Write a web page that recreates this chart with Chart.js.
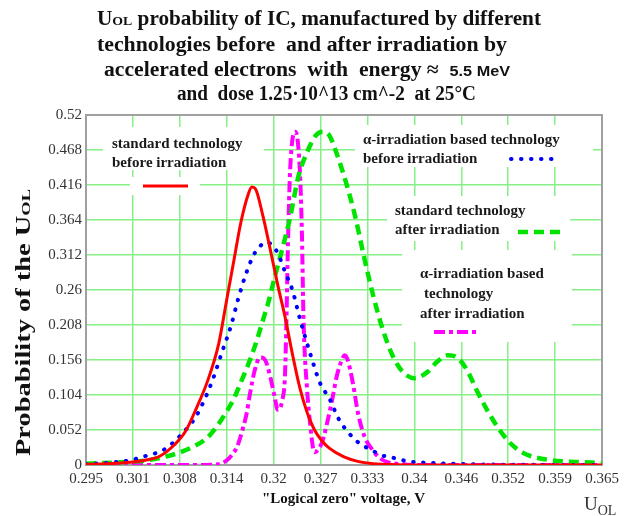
<!DOCTYPE html>
<html>
<head>
<meta charset="utf-8">
<script src="https://cdn.jsdelivr.net/npm/chart.js@4"></script>
<style>
  html, body { margin: 0; padding: 0; background: #fff; }
</style>
</head>
<body>
<canvas id="myChart" width="624" height="516"></canvas>
<script>
const X_TICK_LABELS = ["0.295", "0.301", "0.308", "0.314", "0.32", "0.327", "0.333", "0.34", "0.346", "0.352", "0.359", "0.365"];
const Y_TICK_LABELS = ["0", "0.052", "0.104", "0.156", "0.208", "0.26", "0.312", "0.364", "0.416", "0.468", "0.52"];
const X_MIN = 0.295, X_MAX = 0.365, Y_MIN = 0, Y_MAX = 0.52;

// standard technology before irradiation
const STD_BEFORE_X = [0.295, 0.298, 0.301, 0.303, 0.305, 0.307, 0.3085, 0.31, 0.3115, 0.313, 0.314, 0.315, 0.316, 0.317, 0.3175, 0.318, 0.319, 0.32, 0.321, 0.322, 0.323, 0.324, 0.325, 0.326, 0.327, 0.328, 0.33, 0.332, 0.334, 0.337, 0.34, 0.365];
const STD_BEFORE_Y = [0.001, 0.002, 0.004, 0.007, 0.013, 0.03, 0.05, 0.085, 0.125, 0.18, 0.24, 0.3, 0.36, 0.402, 0.413, 0.41, 0.37, 0.32, 0.268, 0.22, 0.165, 0.115, 0.078, 0.052, 0.036, 0.025, 0.012, 0.005, 0.002, 0.0005, 0, 0];

// alpha-irradiation based technology before irradiation
const ALPHA_BEFORE_X = [0.295, 0.2987, 0.301, 0.3026, 0.304, 0.3053, 0.3067, 0.308, 0.3098, 0.3112, 0.3123, 0.3134, 0.3147, 0.3156, 0.3168, 0.3179, 0.3189, 0.3195, 0.3202, 0.321, 0.322, 0.323, 0.324, 0.3254, 0.3267, 0.3281, 0.3292, 0.3311, 0.3324, 0.3338, 0.3349, 0.3362, 0.3376, 0.339, 0.342, 0.346, 0.352, 0.365];
const ALPHA_BEFORE_Y = [0.001, 0.004, 0.007, 0.012, 0.016, 0.021, 0.032, 0.046, 0.07, 0.1, 0.13, 0.166, 0.208, 0.245, 0.287, 0.315, 0.328, 0.331, 0.327, 0.315, 0.287, 0.26, 0.218, 0.166, 0.123, 0.097, 0.07, 0.042, 0.03, 0.022, 0.015, 0.012, 0.008, 0.005, 0.003, 0.0015, 0.0005, 0];

// standard technology after irradiation
const STD_AFTER_X = [0.295, 0.2996, 0.3033, 0.306, 0.3078, 0.3095, 0.3114, 0.3128, 0.3141, 0.315, 0.3159, 0.3172, 0.3182, 0.319, 0.3197, 0.3206, 0.3217, 0.3227, 0.3238, 0.325, 0.3262, 0.3272, 0.328, 0.329, 0.3304, 0.3315, 0.3326, 0.334, 0.3353, 0.3367, 0.338, 0.3396, 0.3413, 0.3426, 0.3441, 0.3453, 0.3467, 0.348, 0.3494, 0.3508, 0.3525, 0.3543, 0.357, 0.3607, 0.365];
const STD_AFTER_Y = [0.002, 0.004, 0.007, 0.013, 0.019, 0.027, 0.04, 0.058, 0.08, 0.097, 0.12, 0.155, 0.186, 0.215, 0.24, 0.279, 0.324, 0.368, 0.428, 0.465, 0.49, 0.495, 0.49, 0.463, 0.415, 0.37, 0.315, 0.25, 0.2, 0.16, 0.138, 0.129, 0.138, 0.153, 0.163, 0.16, 0.141, 0.111, 0.082, 0.057, 0.033, 0.018, 0.009, 0.005, 0.003];

// alpha-irradiation based technology after irradiation
const ALPHA_AFTER_X = [0.295, 0.31, 0.313, 0.3141, 0.315, 0.3155, 0.3163, 0.3168, 0.3172, 0.3179, 0.3186, 0.3193, 0.32, 0.3206, 0.321, 0.3216, 0.322, 0.3222, 0.3224, 0.3227, 0.3234, 0.324, 0.3243, 0.3245, 0.325, 0.3254, 0.3258, 0.326, 0.327, 0.3277, 0.3284, 0.329, 0.3297, 0.3301, 0.3305, 0.3312, 0.3319, 0.3328, 0.3339, 0.3349, 0.336, 0.338, 0.34, 0.365];
const ALPHA_AFTER_Y = [0, 0, 0.001, 0.007, 0.018, 0.027, 0.055, 0.077, 0.103, 0.141, 0.16, 0.156, 0.131, 0.101, 0.082, 0.095, 0.135, 0.22, 0.33, 0.44, 0.495, 0.44, 0.34, 0.22, 0.111, 0.062, 0.025, 0.019, 0.033, 0.062, 0.097, 0.131, 0.156, 0.163, 0.156, 0.122, 0.077, 0.042, 0.022, 0.01, 0.004, 0.001, 0, 0];

const SERIF = '"Liberation Serif", "DejaVu Serif", serif';
const GRID_GREEN = "#86f086";

function pts(xs, ys) {
  return xs.map((x, i) => ({ x: x, y: ys[i] }));
}

const STYLES = [
  { color: "#ff0000", width: 3, dash: [], cap: "butt" },
  { color: "#0000ff", width: 4, dash: [0.5, 9.5], cap: "round" },
  { color: "#00e400", width: 4.5, dash: [10, 6], cap: "butt" },
  { color: "#ff00ff", width: 4, dash: [11, 4, 4, 4], cap: "butt" },
];

const SERIES = [
  { label: "standard technology before irradiation", x: STD_BEFORE_X, y: STD_BEFORE_Y },
  { label: "α-irradiation based technology before irradiation", x: ALPHA_BEFORE_X, y: ALPHA_BEFORE_Y },
  { label: "standard technology after irradiation", x: STD_AFTER_X, y: STD_AFTER_Y },
  { label: "α-irradiation based technology after irradiation", x: ALPHA_AFTER_X, y: ALPHA_AFTER_Y },
];

// draw text made of several font runs, squeezed to a given width
function drawRich(ctx, parts, x, y, width) {
  let total = 0;
  parts.forEach(p => { ctx.font = p[1]; total += ctx.measureText(p[0]).width; });
  const sx = width ? width / total : 1;
  ctx.save();
  ctx.translate(x, y);
  ctx.scale(sx, 1);
  let cx = 0;
  parts.forEach(p => {
    ctx.font = p[1];
    ctx.fillText(p[0], cx, p[2] || 0);
    cx += ctx.measureText(p[0]).width;
  });
  ctx.restore();
}

function sample(ctx, s, x1, x2, y) {
  ctx.save();
  ctx.strokeStyle = s.color;
  ctx.lineWidth = s.width;
  ctx.setLineDash(s.dash);
  ctx.lineCap = s.cap;
  ctx.beginPath();
  ctx.moveTo(x1, y);
  ctx.lineTo(x2, y);
  ctx.stroke();
  ctx.restore();
}

const notes = {
  id: "notes",
  beforeDatasetsDraw(chart) {
    const ctx = chart.ctx, a = chart.chartArea;
    ctx.save();
    // white patches under the labels
    ctx.fillStyle = "#fff";
    [[103, 127, 264, 170], [130, 177, 200, 195], [355, 125, 593, 167],
     [387, 196, 570, 241], [402, 250, 572, 342]].forEach(b => ctx.fillRect(b[0], b[1], b[2] - b[0], b[3] - b[1]));
    // frame
    ctx.strokeStyle = "#a0a0a0";
    ctx.lineWidth = 2;
    ctx.strokeRect(a.left, a.top, a.right - a.left, a.bottom - a.top);

    ctx.fillStyle = "#1a1a1a";
    ctx.textBaseline = "alphabetic";
    const LF = "bold 15px " + SERIF;
    ctx.font = LF;
    ctx.fillText("standard technology", 112, 148);
    ctx.fillText("before irradiation", 112, 167);
    ctx.fillText("α-irradiation based technology", 363, 144);
    ctx.fillText("before irradiation", 363, 163);
    ctx.fillText("standard technology", 395, 215);
    ctx.fillText("after irradiation", 395, 234);
    ctx.fillText("α-irradiation based", 420, 278);
    ctx.fillText("technology", 424, 298);
    ctx.fillText("after irradiation", 420, 318);
    ctx.restore();

    sample(ctx, STYLES[0], 143, 188, 186);
    sample(ctx, STYLES[1], 511, 556, 159);
    sample(ctx, STYLES[2], 518, 564, 232);
    sample(ctx, STYLES[3], 434, 478, 332);
  },
  afterDraw(chart) {
    const ctx = chart.ctx;
    ctx.save();
    ctx.fillStyle = "#111";
    ctx.textBaseline = "alphabetic";
    const TF = "bold 20px " + SERIF;
    const SUB = "bold 13px " + SERIF;
    drawRich(ctx, [["U", TF], ["OL", SUB], [" probability of IC, manufactured by different", TF]], 97, 25, 444);
    drawRich(ctx, [["technologies before  and after irradiation by", TF]], 97, 51, 410);
    drawRich(ctx, [["accelerated electrons  with  energy \u2248  ", TF], ["5.5 MeV", 'bold 15px "Liberation Sans", sans-serif']], 104, 76, 406);
    drawRich(ctx, [["and  dose 1.25\u00b710^13 cm^-2  at 25\u00b0C", TF]], 177, 100, 299);

    // y axis title
    ctx.save();
    ctx.translate(30, 323);
    ctx.rotate(-Math.PI / 2);
    drawRich(ctx, [["Probability of the U", TF], ["OL", SUB]], -133, 0, 267);
    ctx.restore();

    // x axis title
    drawRich(ctx, [['"Logical zero" voltage, V', "bold 15px " + SERIF]], 262, 503, 0);
    ctx.fillStyle = "#333";
    drawRich(ctx, [["U", "19px " + SERIF], ["OL", "14px " + SERIF, 5]], 584, 510, 0);
    ctx.restore();
  },
};

const data = {
  datasets: SERIES.map((s, i) => ({
    label: s.label,
    data: pts(s.x, s.y),
    borderColor: STYLES[i].color,
    borderWidth: STYLES[i].width,
    borderDash: STYLES[i].dash,
    borderCapStyle: STYLES[i].cap,
    pointRadius: 0,
    fill: false,
    cubicInterpolationMode: "monotone",
  })),
};

const tickFont = { family: SERIF, size: 15 };

const config = {
  type: "line",
  data: data,
  plugins: [notes],
  options: {
    responsive: false,
    animation: false,
    layout: { padding: { left: 0, right: 22, top: 115, bottom: 0 } },
    plugins: {
      legend: { display: false },
      tooltip: { enabled: false },
    },
    scales: {
      x: {
        type: "linear",
        min: X_MIN,
        max: X_MAX,
        afterBuildTicks: scale => {
          const n = X_TICK_LABELS.length - 1;
          scale.ticks = X_TICK_LABELS.map((l, i) => ({ value: X_MIN + i * (X_MAX - X_MIN) / n }));
        },
        afterFit: scale => { scale.height = 51; },
        ticks: {
          callback: (v, i) => X_TICK_LABELS[i],
          font: tickFont,
          color: "#333",
          padding: 5,
          maxRotation: 0,
          autoSkip: false,
        },
        grid: { color: GRID_GREEN, lineWidth: 1.5, drawTicks: false },
        border: { display: false },
      },
      y: {
        type: "linear",
        min: Y_MIN,
        max: Y_MAX,
        afterBuildTicks: scale => {
          const n = Y_TICK_LABELS.length - 1;
          scale.ticks = Y_TICK_LABELS.map((l, i) => ({ value: Y_MIN + i * (Y_MAX - Y_MIN) / n }));
        },
        afterFit: scale => { scale.width = 86; },
        ticks: {
          callback: (v, i) => Y_TICK_LABELS[i],
          font: tickFont,
          color: "#333",
          padding: 4,
          autoSkip: false,
        },
        grid: { color: GRID_GREEN, lineWidth: 1.5, drawTicks: false },
        border: { display: false },
      },
    },
  },
};

const myChart = new Chart(document.getElementById("myChart"), config);
</script>
</body>
</html>
